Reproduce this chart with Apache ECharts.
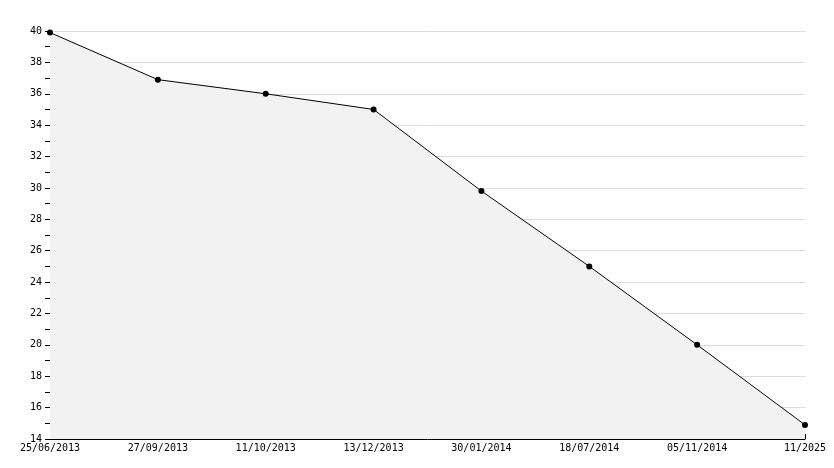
<!DOCTYPE html>
<html>
<head>
<meta charset="utf-8">
<script src="https://cdn.jsdelivr.net/npm/echarts@6/dist/echarts.min.js"></script>
<style>
  html, body { margin: 0; padding: 0; background: #fff; }
  #chart { width: 834px; height: 468px; }
</style>
</head>
<body>
<div id="chart"></div>
<script>
var dates = ["25/06/2013", "27/09/2013", "11/10/2013", "13/12/2013", "30/01/2014", "18/07/2014", "05/11/2014", "11/2025"];
var values = [39.9, 36.9, 36, 35, 29.8, 25, 20, 14.9];

var chart = echarts.init(document.getElementById("chart"));
var font = "DejaVu Sans Mono";

chart.setOption({
  animation: false,
  grid: { left: 50, right: 29, top: 31, bottom: 29, containLabel: false },
  xAxis: {
    type: "category",
    data: dates,
    boundaryGap: false,
    axisLine: { lineStyle: { color: "#000", width: 1 } },
    axisTick: { inside: true, length: 5, lineStyle: { color: "#000" } },
    axisLabel: { color: "#000", fontFamily: font, fontSize: 10, margin: 4, interval: 0 },
    splitLine: { show: false }
  },
  yAxis: {
    type: "value",
    min: 14,
    max: 40,
    interval: 2,
    axisLine: { show: true, lineStyle: { color: "#000", width: 1 } },
    axisTick: { show: true, length: 5, lineStyle: { color: "#000" } },
    minorTick: { show: true, splitNumber: 2, length: 5, lineStyle: { color: "#000" } },
    axisLabel: { color: "#000", fontFamily: font, fontSize: 10, margin: 8 },
    splitLine: { show: true, lineStyle: { color: "#dcdcdc", width: 1 } }
  },
  series: [{
    type: "line",
    data: values,
    symbol: "circle",
    symbolSize: 6,
    itemStyle: { color: "#000" },
    lineStyle: { color: "#000", width: 1 },
    areaStyle: { color: "#f2f2f2", opacity: 1 }
  }]
});
</script>
</body>
</html>
